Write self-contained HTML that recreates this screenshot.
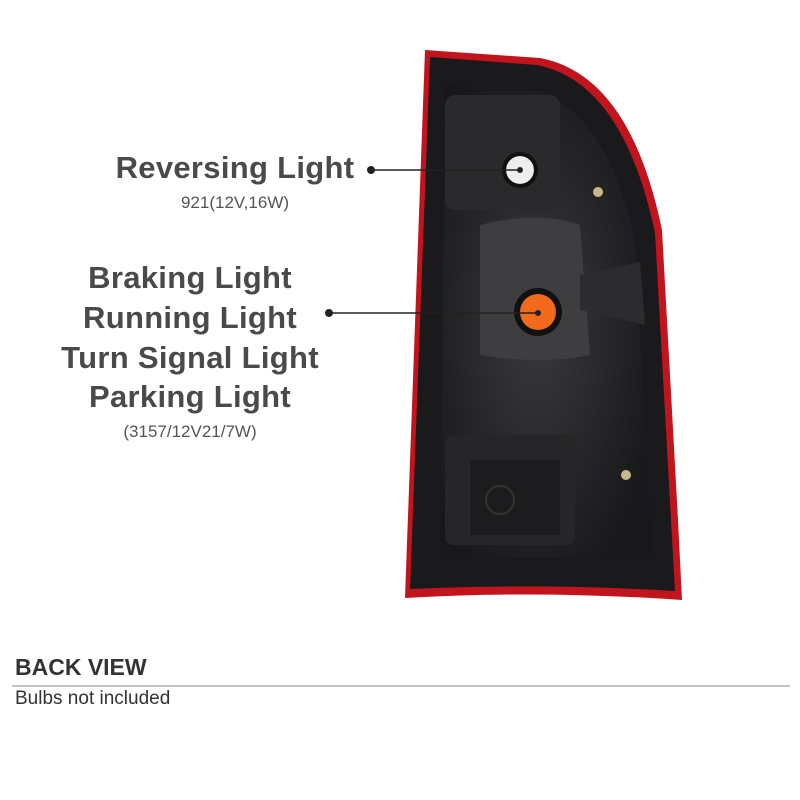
<!DOCTYPE html><html><head><style>
body{margin:0;background:#fff;width:800px;height:800px;position:relative;overflow:hidden;font-family:"Liberation Sans",sans-serif}
.t{position:absolute;color:#4a4a4a;font-weight:bold;font-size:31px;text-align:center;white-space:nowrap;letter-spacing:0.3px}
.s{position:absolute;color:#555;font-size:17px;text-align:center;white-space:nowrap}
</style></head><body>
<svg width="800" height="800" style="position:absolute;left:0;top:0">
<defs><radialGradient id="g" cx="45%" cy="50%" r="60%"><stop offset="0" stop-color="#3a3a3c"/><stop offset="1" stop-color="#18181a"/></radialGradient></defs>
<path d="M425,50 L540,58 Q630,75 662,230 L678,520 L682,600 Q540,590 405,598 Z" fill="#c1141c"/>
<path d="M430,57 L537,65 Q623,82 655,233 L671,520 L675,591 Q540,583 410,589 Z" fill="#1a1a1c"/>
<path d="M445,85 L530,90 Q605,105 635,240 L650,520 L655,560 Q540,556 440,560 Z" fill="url(#g)"/>
<rect x="445" y="95" width="115" height="115" rx="10" fill="#2a2a2c"/>
<path d="M480,225 Q540,210 580,225 L590,355 Q540,365 480,355 Z" fill="#3e3e40"/>
<path d="M580,275 L640,262 L645,325 L580,310 Z" fill="#2c2c2e"/>
<rect x="445" y="435" width="130" height="110" rx="8" fill="#262628"/>
<rect x="470" y="460" width="90" height="75" fill="#1c1c1e"/>
<circle cx="500" cy="500" r="14" fill="none" stroke="#333" stroke-width="2"/>
<circle cx="520" cy="170" r="14" fill="#eee"/>
<circle cx="520" cy="170" r="16" fill="none" stroke="#111" stroke-width="4"/>
<circle cx="538" cy="312" r="24" fill="#111"/>
<circle cx="538" cy="312" r="18" fill="#f26a1b"/>
<circle cx="598" cy="192" r="5" fill="#c9b98a"/>
<circle cx="626" cy="475" r="5" fill="#c9b98a"/>
<line x1="371" y1="170" x2="520" y2="170" stroke="#222" stroke-width="1.5"/>
<circle cx="371" cy="170" r="4" fill="#222"/>
<line x1="329" y1="313" x2="538" y2="313" stroke="#222" stroke-width="1.5"/>
<circle cx="329" cy="313" r="4" fill="#222"/>
<circle cx="538" cy="313" r="3" fill="#222"/>
<circle cx="520" cy="170" r="3" fill="#222"/>
<line x1="12" y1="686" x2="790" y2="686" stroke="#888" stroke-width="1"/>
</svg>
<div class="t" style="left:85px;width:300px;top:150px">Reversing Light</div>
<div class="s" style="left:85px;width:300px;top:193px">921(12V,16W)</div>
<div class="t" style="left:40px;width:300px;top:260px">Braking Light</div>
<div class="t" style="left:40px;width:300px;top:300px">Running Light</div>
<div class="t" style="left:40px;width:300px;top:340px">Turn Signal Light</div>
<div class="t" style="left:40px;width:300px;top:379px">Parking Light</div>
<div class="s" style="left:40px;width:300px;top:422px">(3157/12V21/7W)</div>
<div style="position:absolute;left:15px;top:654px;font-size:23px;font-weight:bold;color:#333">BACK VIEW</div>
<div style="position:absolute;left:15px;top:688px;font-size:19px;color:#333">Bulbs not included</div>
</body></html>
